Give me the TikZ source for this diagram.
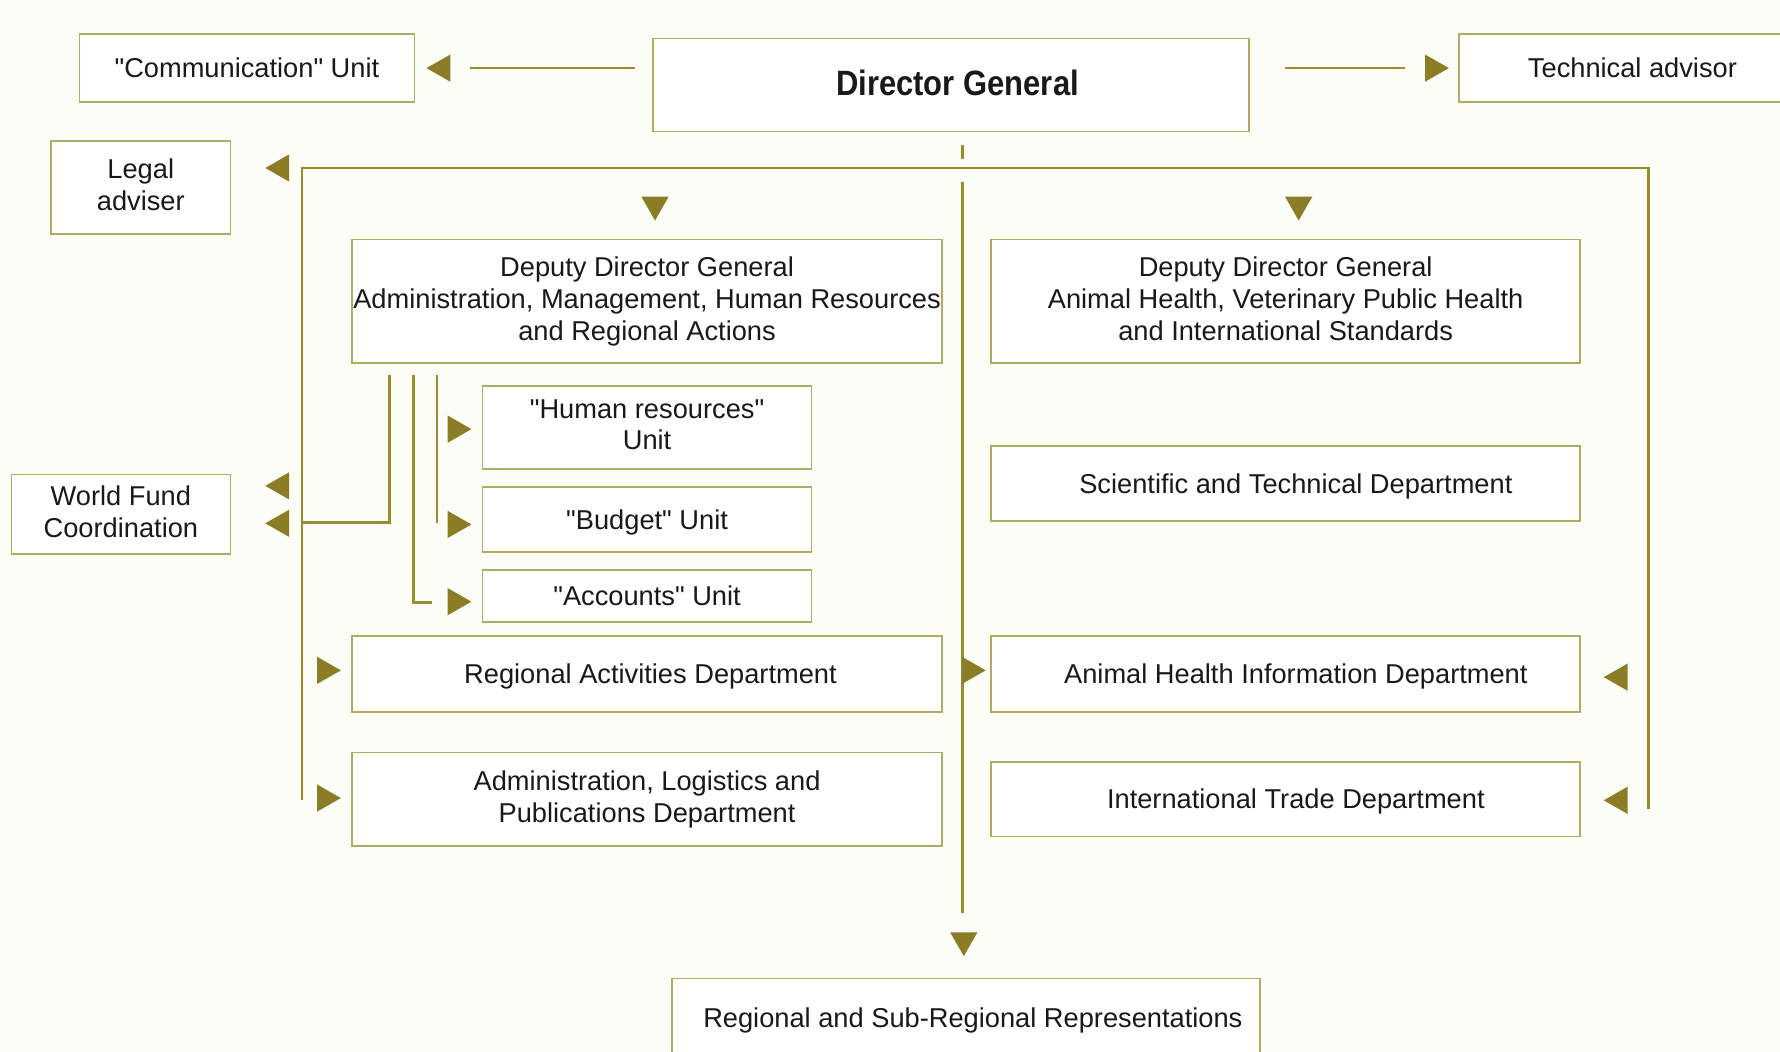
\documentclass[tikz,border=0pt]{standalone}
\usepackage{fontspec}
\setmainfont{Liberation Sans}
\newfontfamily\dgfont[FakeStretch=0.88]{Liberation Sans}
\usepackage{tikz}
\usetikzlibrary{calc,positioning}
\definecolor{paperbg}{RGB}{253,253,247}
\definecolor{boxline}{RGB}{176,172,98}
\definecolor{linkol}{RGB}{152,140,46}
\definecolor{tipol}{RGB}{138,125,38}
\definecolor{inkk}{RGB}{25,25,25}
\newcommand{\qq}{\textquotedbl}
\newcommand{\ustrut}{\rule[-2.4pt]{0pt}{13.4pt}}
\tikzset{
   unit/.style={draw=boxline, fill=white, line width=0.7pt, align=center, inner sep=0pt,
                text=inkk, font=\fontsize{12}{14}\selectfont,
                execute at begin node=\ustrut, execute at end node=\ustrut},
   sz/.style 2 args={minimum width=#1*0.5pt, minimum height=#2*0.5pt},
   link/.style={draw=linkol, line width=1.2pt},
   pics/triR/.style={code={\fill[tipol] (0,0) -- (-21,-12) -- (-21,12) -- cycle;}},
   pics/triL/.style={code={\fill[tipol] (0,0) -- (21,-12) -- (21,12) -- cycle;}},
   pics/triD/.style={code={\fill[tipol] (0,0) -- (-12,-21) -- (12,-21) -- cycle;}}
}

\begin{document}
\begin{tikzpicture}[x=0.5pt,y=-0.5pt]
\fill[paperbg] (0,0) rectangle (1568,926);
\useasboundingbox (0,0) rectangle (1568,926);

% top row
\node[unit, sz={295}{60}] (comm) at (217.5,60) {\qq Communication\qq\ Unit};
\node[unit, sz={525}{82}, font=\dgfont\fontsize{15.5}{18}\selectfont\bfseries] (dg) at (837.5,75) {\hspace*{6pt}Director General};
\node[unit, sz={306}{60}] (tech) at (1438,60) {Technical advisor};
\node[unit, sz={158}{82}] (legal) at (124,165) {Legal\\adviser};

% deputies
\node[unit, sz={520}{109}] (ddga) at (570,265.5) {Deputy Director General\\Administration, Management, Human Resources\\and Regional Actions};
\node[unit, sz={519}{109}] (ddgb) at (1132.5,265.5) {Deputy Director General\\Animal Health, Veterinary Public Health\\and International Standards};

% units
\node[unit, sz={290}{73}] (hr) at (570,376.5) {\qq Human resources\qq\\Unit};
\node[unit, sz={290}{57}] (budget) at (570,457.5) {\qq Budget\qq\ Unit};
\node[unit, sz={290}{46}] (accounts) at (570,525) {\qq Accounts\qq\ Unit};
\node[unit, sz={193}{70}] (wfc) at (106.5,453) {World Fund\\Coordination};

% departments
\node[unit, sz={519}{66}] (sci) at (1132.5,426) {\hspace*{9pt}Scientific and Technical Department};
\node[unit, sz={520}{67}] (rad) at (570,593.5) {\hspace*{3pt}Regional Activities Department};
\node[unit, sz={519}{67}] (ahi) at (1132.5,593.5) {\hspace*{9pt}Animal Health Information Department};
\node[unit, sz={520}{82}] (alp) at (570,704) {Administration, Logistics and\\Publications Department};
\node[unit, sz={519}{66}] (itd) at (1132.5,704) {\hspace*{9pt}International Trade Department};
\node[unit, sz={518}{70}] (rsr) at (851,897) {\hspace*{6pt}Regional and Sub-Regional Representations};

\coordinate (hub) at (848,148);
\coordinate (railL) at (266,148);
\coordinate (railR) at (1452,148);

% DG sides
\draw[link] ($(dg.west|-comm.east)+(-15,0)$) -- ($(comm.east)+(48,0)$);
\pic at ($(comm.east)+(10,0)$) {triL};
\draw[link] ($(dg.east|-tech.west)+(31,0)$) -- ($(tech.west)+(-47,0)$);
\pic at ($(tech.west)+(-8,0)$) {triR};

% bar, rails and spine
\draw[link] ($(hub|-dg.south)+(0,11)$) -- ($(hub|-dg.south)+(0,23)$);
\draw[link] ($(railL|-alp)+(0,1)$) -- (railL) -- (railR) -- ($(railR|-itd)+(0,9)$);
\draw[link] ($(hub)+(0,12)$) -- ($(hub|-rsr.north)+(0,-57)$);
\pic at ($(hub|-rsr.north)+(1,-19)$) {triD};
\pic at ($(legal.east|-railL)+(30,0)$) {triL};
\pic at ($(ddga.north)+(7,-16)$) {triD};
\pic at ($(ddgb.north)+(11.5,-16)$) {triD};

% under the admin deputy
\draw[link] ($(ddga.south)+(-227,10)$) |- ($(railL)+(0,312)$);
\draw[link] ($(ddga.south)+(-206,10)$) |- ($(accounts.west)+(-44,6)$);
\draw[link] ($(ddga.south)+(-185,10)$) -- ($(ddga.south)+(-185,140)$);
\pic at ($(hr.west)+(-9,1.5)$) {triR};
\pic at ($(budget.west)+(-9,4.5)$) {triR};
\pic at ($(accounts.west)+(-9,5)$) {triR};
\pic at ($(wfc.east)+(30,-25)$) {triL};
\pic at ($(wfc.east)+(30,8)$) {triL};
\pic at ($(rad.west)+(-9,-3)$) {triR};
\pic at ($(alp.west)+(-9,-1)$) {triR};

% right side
\pic at ($(ahi.west)+(-4,-3)$) {triR};
\pic at ($(ahi.east)+(20,3)$) {triL};
\pic at ($(itd.east)+(20,1)$) {triL};
\end{tikzpicture}
\end{document}
